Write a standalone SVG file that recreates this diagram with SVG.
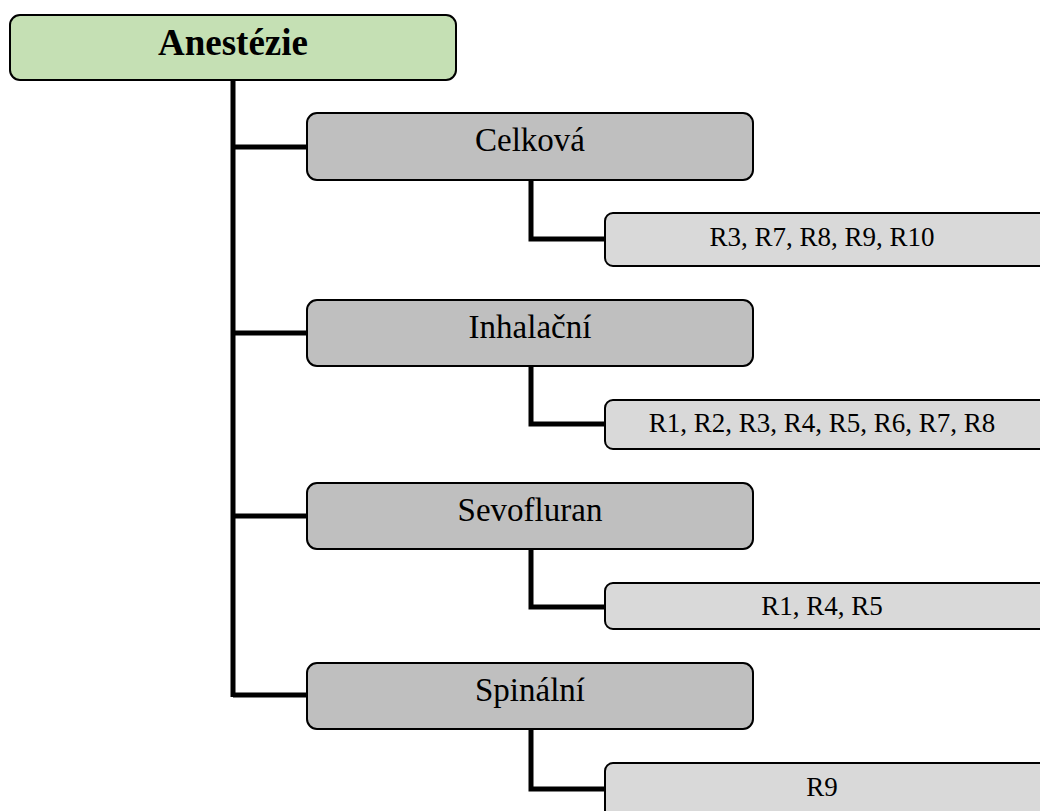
<svg xmlns="http://www.w3.org/2000/svg" width="1040" height="811" viewBox="0 0 1040 811">
  <style>
    .box { stroke: #000; stroke-width: 2; }
    .root { fill: #c5e0b4; }
    .cat { fill: #bfbfbf; }
    .leaf { fill: #d9d9d9; }
    .link { fill: none; stroke: #000; stroke-width: 5; stroke-linejoin: miter; }
    text { font-family: "Liberation Serif", "Times New Roman", serif; fill: #000; text-anchor: middle; }
    .t-root { font-size: 37px; font-weight: bold; }
    .t-cat { font-size: 33px; }
    .t-leaf { font-size: 27px; }
  </style>

  <!-- connectors -->
  <g id="connectors">
    <path class="link" d="M233,80 V697"/>
    <path class="link" d="M233,147 H307"/>
    <path class="link" d="M233,333 H307"/>
    <path class="link" d="M233,516 H307"/>
    <path class="link" d="M233,695 H307"/>
    <path class="link" d="M531,180 V239 H605"/>
    <path class="link" d="M531,366 V424 H605"/>
    <path class="link" d="M531,549 V607 H605"/>
    <path class="link" d="M531,729 V789 H605"/>
  </g>

  <!-- root -->
  <g id="anestezie">
    <rect class="box root" x="10" y="15" width="446" height="65" rx="10"/>
    <text class="t-root" x="233" y="55">Anestézie</text>
  </g>

  <!-- categories -->
  <g id="celkova">
    <rect class="box cat" x="307" y="113" width="446" height="67" rx="10"/>
    <text class="t-cat" x="530" y="151">Celková</text>
  </g>
  <g id="inhalacni">
    <rect class="box cat" x="307" y="300" width="446" height="66" rx="10"/>
    <text class="t-cat" x="530" y="338">Inhalační</text>
  </g>
  <g id="sevofluran">
    <rect class="box cat" x="307" y="483" width="446" height="66" rx="10"/>
    <text class="t-cat" x="530" y="521">Sevofluran</text>
  </g>
  <g id="spinalni">
    <rect class="box cat" x="307" y="663" width="446" height="66" rx="10"/>
    <text class="t-cat" x="530" y="701">Spinální</text>
  </g>

  <!-- reference lists -->
  <g id="celkova-refs">
    <rect class="box leaf" x="605" y="213" width="450" height="53" rx="8"/>
    <text class="t-leaf" x="822" y="246">R3, R7, R8, R9, R10</text>
  </g>
  <g id="inhalacni-refs">
    <rect class="box leaf" x="605" y="400" width="450" height="49" rx="8"/>
    <text class="t-leaf" x="822" y="432">R1, R2, R3, R4, R5, R6, R7, R8</text>
  </g>
  <g id="sevofluran-refs">
    <rect class="box leaf" x="605" y="583" width="450" height="46" rx="8"/>
    <text class="t-leaf" x="822" y="615">R1, R4, R5</text>
  </g>
  <g id="spinalni-refs">
    <rect class="box leaf" x="605" y="763" width="450" height="55" rx="8"/>
    <text class="t-leaf" x="822" y="796">R9</text>
  </g>
</svg>
